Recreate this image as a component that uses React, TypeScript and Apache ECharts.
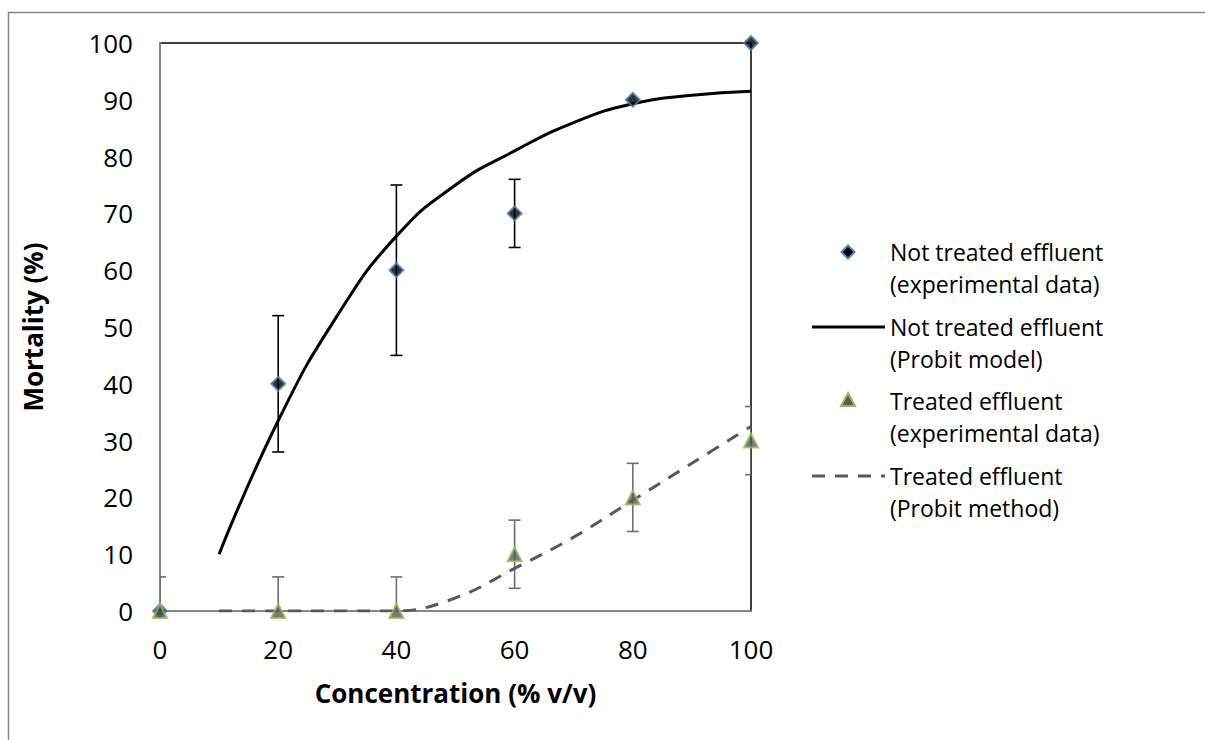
import React, { useEffect, useRef } from "react";
import * as echarts from "echarts";

const xTickValues = [0, 20, 40, 60, 80, 100];
const notTreatedX = [0, 20, 40, 60, 80, 100];
const notTreatedY = [0, 40, 60, 70, 90, 100];
const notTreatedErrX = [20, 40, 60];
const notTreatedErrLow = [28, 45, 64];
const notTreatedErrHigh = [52, 75, 76];
const treatedX = [0, 20, 40, 60, 80, 100];
const treatedY = [0, 0, 0, 10, 20, 30];
const treatedErrLow = [-6, -6, -6, 4, 14, 24];
const treatedErrHigh = [6, 6, 6, 16, 26, 36];
const probitX = [10, 20, 30, 40, 50, 60, 70, 80, 90, 100];
const notTreatedProbit = [10, 33.5, 52, 66, 75, 81, 86, 89.3, 90.8, 91.5];
const treatedProbit = [0, 0, 0, 0, 2.3, 7.5, 13, 19.5, 26, 32.5];

const legendNames = [
  "Not treated effluent\n(experimental data)",
  "Not treated effluent\n(Probit model)",
  "Treated effluent\n(experimental data)",
  "Treated effluent\n(Probit method)",
];

const FONT = "'Open Sans', 'Noto Sans', sans-serif";
const DIAMOND_STYLE = { fill: "#000000", stroke: "#4f81bd", lineWidth: 2 };
const TRIANGLE_STYLE = { fill: "#595959", stroke: "#9bbb59", lineWidth: 2 };
const DASH = [13, 10];

function errorBarRender(color: string) {
  return (params: any, api: any) => {
    const x = api.value(0);
    const lo = api.value(1);
    const hi = api.value(2);
    const p1 = api.coord([x, lo]);
    const p2 = api.coord([x, hi]);
    const w = 6;
    const style = { stroke: color, lineWidth: 1.6 };
    return {
      type: "group",
      children: [
        { type: "line", shape: { x1: p1[0], y1: p1[1], x2: p2[0], y2: p2[1] }, style },
        { type: "line", shape: { x1: p1[0] - w, y1: p1[1], x2: p1[0] + w, y2: p1[1] }, style },
        { type: "line", shape: { x1: p2[0] - w, y1: p2[1], x2: p2[0] + w, y2: p2[1] }, style },
      ],
    };
  };
}

function legendGraphics() {
  const textX = 890;
  const iconL = 812;
  const iconR = 885;
  const iconC = 848;
  const centers = [252, 327, 401, 476];
  const els: any[] = [];
  legendNames.forEach((name, i) => {
    els.push({
      type: "text",
      left: textX,
      top: centers[i] - 16,
      style: {
        text: name,
        fontFamily: FONT,
        fontSize: 23,
        lineHeight: 32,
        fill: "#000",
      },
      silent: true,
    });
  });
  const c0 = centers[0];
  els.push({
    type: "polygon",
    shape: { points: [[iconC, c0 - 6.5], [iconC + 6.5, c0], [iconC, c0 + 6.5], [iconC - 6.5, c0]] },
    style: DIAMOND_STYLE,
    silent: true,
  });
  els.push({
    type: "line",
    shape: { x1: iconL, y1: centers[1], x2: iconR, y2: centers[1] },
    style: { stroke: "#000", lineWidth: 3 },
    silent: true,
  });
  const c2 = centers[2];
  els.push({
    type: "polygon",
    shape: { points: [[iconC, c2 - 8], [iconC + 7, c2 + 5], [iconC - 7, c2 + 5]] },
    style: TRIANGLE_STYLE,
    silent: true,
  });
  els.push({
    type: "line",
    shape: { x1: iconL, y1: centers[3], x2: iconR, y2: centers[3] },
    style: { stroke: "#595959", lineWidth: 3, lineDash: DASH },
    silent: true,
  });
  return els;
}

export default function App() {
  const ref = useRef<HTMLDivElement>(null);
  useEffect(() => {
    document.body.style.margin = "0";
    if (!ref.current) return;
    const chart = echarts.init(ref.current, undefined, { renderer: "svg" });
    const option: any = {
      animation: false,
      backgroundColor: "#ffffff",
      textStyle: { fontFamily: FONT },
      graphic: [
        {
          type: "rect",
          shape: { x: 8.5, y: 12.5, width: 1400, height: 900 },
          style: { fill: "none", stroke: "#878787", lineWidth: 1.5 },
          silent: true,
          z: -10,
        },
        ...legendGraphics(),
      ],
      grid: {
        left: 160,
        top: 43,
        width: 591,
        height: 568,
        show: true,
        borderColor: "#000000",
        borderWidth: 1.5,
        backgroundColor: "transparent",
      },
      xAxis: {
        type: "value",
        min: 0,
        max: 100,
        interval: 20,
        name: "Concentration (% v/v)",
        nameLocation: "middle",
        nameGap: 69,
        nameTextStyle: { fontFamily: FONT, fontSize: 26, fontWeight: "bold", color: "#000" },
        axisLine: { show: true, lineStyle: { color: "#868686", width: 2 } },
        axisTick: { show: false },
        splitLine: { show: false },
        axisLabel: {
          fontFamily: FONT,
          fontSize: 26,
          color: "#000",
          margin: 25,
          customValues: xTickValues,
        },
      },
      yAxis: {
        type: "value",
        min: 0,
        max: 100,
        interval: 10,
        name: "Mortality (%)",
        nameLocation: "middle",
        nameGap: 114,
        nameTextStyle: { fontFamily: FONT, fontSize: 26, fontWeight: "bold", color: "#000" },
        axisLine: { show: true, lineStyle: { color: "#868686", width: 2 } },
        axisTick: { show: false },
        splitLine: { show: false },
        axisLabel: { fontFamily: FONT, fontSize: 26, color: "#000", margin: 27 },
      },
      series: [
        {
          type: "custom",
          name: "notTreatedErr",
          clip: true,
          renderItem: errorBarRender("#000000"),
          encode: { x: 0, y: [1, 2] },
          data: notTreatedErrX.map((x, i) => [x, notTreatedErrLow[i], notTreatedErrHigh[i]]),
          z: 3,
        },
        {
          type: "custom",
          name: "treatedErr",
          clip: true,
          renderItem: errorBarRender("#6e6e6e"),
          encode: { x: 0, y: [1, 2] },
          data: treatedX.map((x, i) => [x, treatedErrLow[i], treatedErrHigh[i]]),
          z: 3,
        },
        {
          type: "line",
          name: legendNames[1],
          data: probitX.map((x, i) => [x, notTreatedProbit[i]]),
          smooth: 0.5,
          symbol: "none",
          lineStyle: { color: "#000000", width: 3 },
          itemStyle: { color: "#000000" },
          z: 4,
        },
        {
          type: "line",
          name: legendNames[3],
          data: probitX.map((x, i) => [x, treatedProbit[i]]),
          smooth: 0.4,
          symbol: "none",
          lineStyle: { color: "#595959", width: 3, type: DASH },
          itemStyle: { color: "#595959" },
          z: 4,
        },
        {
          type: "scatter",
          name: legendNames[0],
          data: notTreatedX.map((x, i) => [x, notTreatedY[i]]),
          symbol: "diamond",
          symbolSize: 14,
          itemStyle: { color: "#000000", borderColor: "#4f81bd", borderWidth: 2 },
          clip: false,
          z: 5,
        },
        {
          type: "scatter",
          name: legendNames[2],
          data: treatedX.map((x, i) => [x, treatedY[i]]),
          symbol: "triangle",
          symbolSize: 14,
          itemStyle: { color: "#595959", borderColor: "#9bbb59", borderWidth: 2 },
          clip: false,
          z: 6,
        },
      ],
    };
    chart.setOption(option);
    return () => chart.dispose();
  }, []);
  return <div ref={ref} style={{ width: 1205, height: 740 }} />;
}
